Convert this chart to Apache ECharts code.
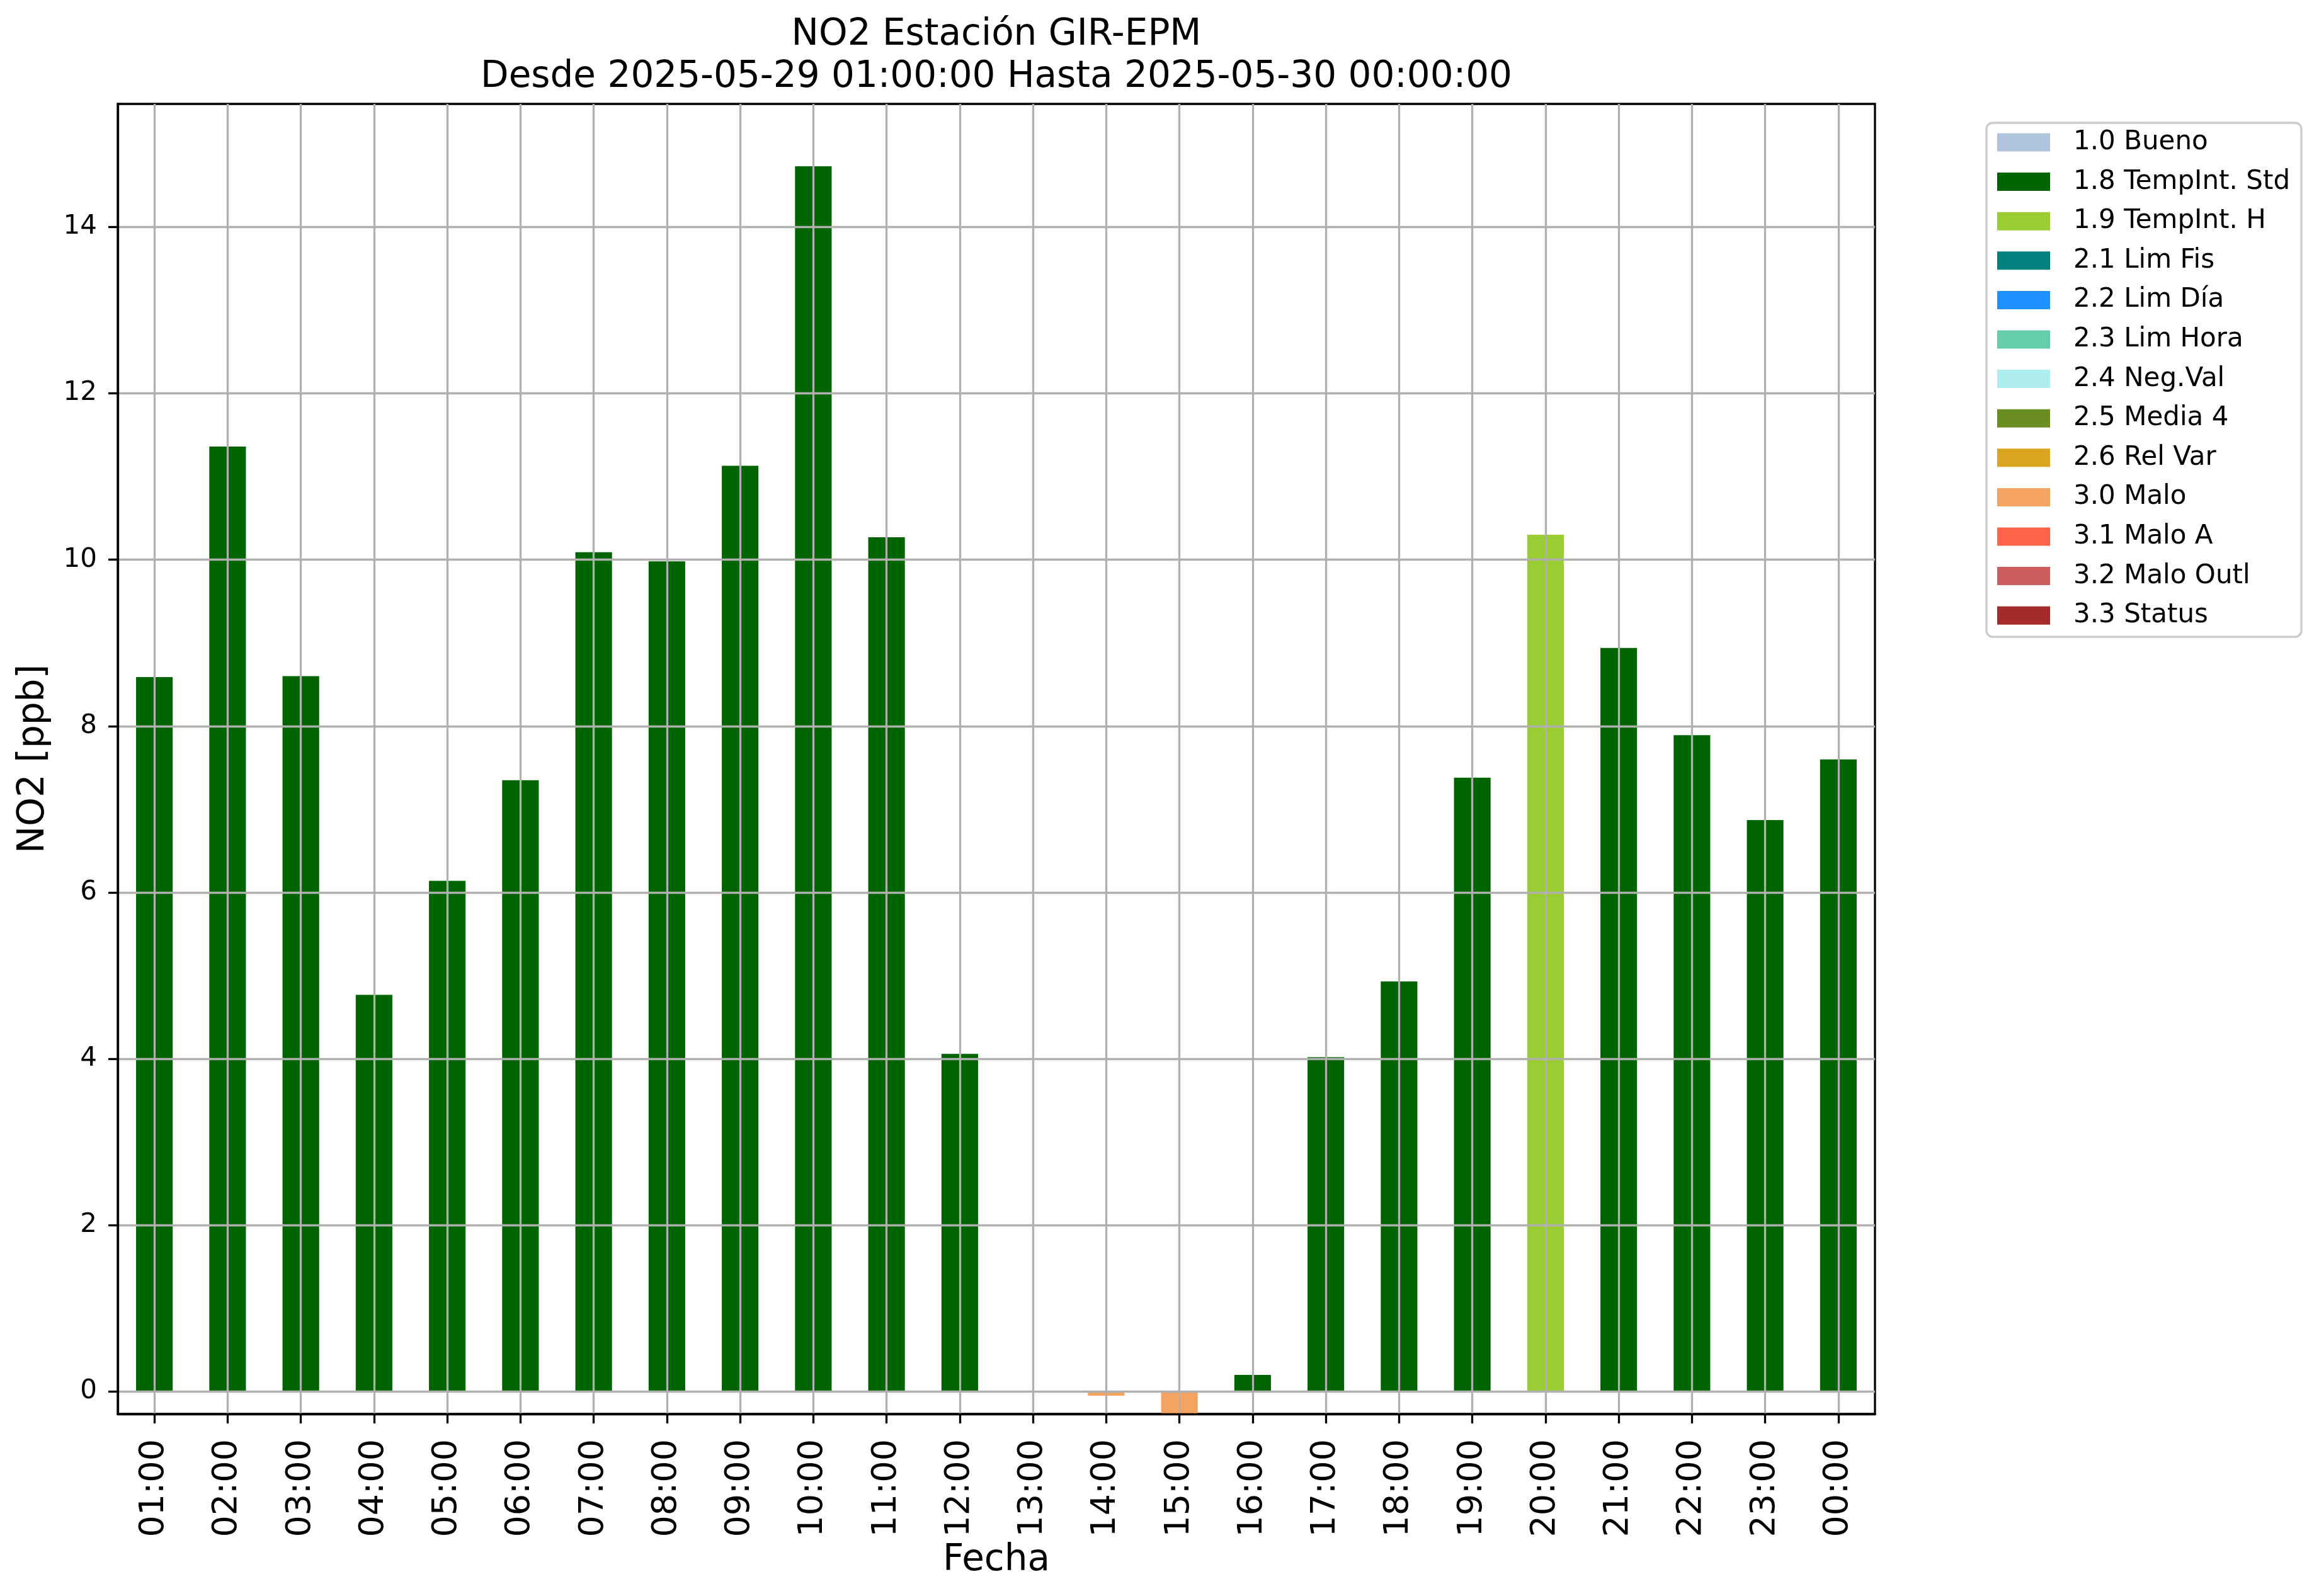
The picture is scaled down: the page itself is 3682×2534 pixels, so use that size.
<!DOCTYPE html>
<html>
<head>
<meta charset="utf-8">
<script src="https://cdn.jsdelivr.net/npm/echarts@6/dist/echarts.min.js"></script>
<style>
html,body{margin:0;padding:0;background:#fff;}
#chart{width:3682px;height:2534px;}
</style>
</head>
<body>
<div id="chart"></div>
<script>
const categories = ['01:00','02:00','03:00','04:00','05:00','06:00','07:00','08:00','09:00','10:00','11:00','12:00',
  '13:00','14:00','15:00','16:00','17:00','18:00','19:00','20:00','21:00','22:00','23:00','00:00'];
const values = [8.59, 11.36, 8.60, 4.77, 6.14, 7.35, 10.09, 9.98, 11.13, 14.73, 10.27, 4.06,
  null, -0.05, -0.27, 0.20, 4.02, 4.93, 7.38, 10.30, 8.94, 7.89, 6.87, 7.60];
const flags = ['1.8 TempInt. Std','1.8 TempInt. Std','1.8 TempInt. Std','1.8 TempInt. Std','1.8 TempInt. Std','1.8 TempInt. Std',
  '1.8 TempInt. Std','1.8 TempInt. Std','1.8 TempInt. Std','1.8 TempInt. Std','1.8 TempInt. Std','1.8 TempInt. Std',
  null,'3.0 Malo','3.0 Malo','1.8 TempInt. Std','1.8 TempInt. Std','1.8 TempInt. Std','1.8 TempInt. Std','1.9 TempInt. H',
  '1.8 TempInt. Std','1.8 TempInt. Std','1.8 TempInt. Std','1.8 TempInt. Std'];
const flagNames = ['1.0 Bueno','1.8 TempInt. Std','1.9 TempInt. H','2.1 Lim Fis','2.2 Lim Día','2.3 Lim Hora',
  '2.4 Neg.Val','2.5 Media 4','2.6 Rel Var','3.0 Malo','3.1 Malo A','3.2 Malo Outl','3.3 Status'];
const flagColors = ['#b0c4de','#006400','#9acd32','#008080','#1e90ff','#66cdaa',
  '#afeeee','#6b8e23','#daa520','#f4a460','#ff6347','#cd5c5c','#a52a2a'];
const yTicks = [0, 2, 4, 6, 8, 10, 12, 14];
const yMin = -0.27, yMax = 15.48;

const FONT = 'DejaVu Sans';
const chart = echarts.init(document.getElementById('chart'), null, {renderer: 'canvas'});

const series = flagNames.map((name, k) => ({
  name: name,
  type: 'bar',
  stack: 'all',
  barWidth: '50%',
  itemStyle: {color: flagColors[k]},
  data: values.map((v, i) => (flags[i] === name ? v : null)),
  z: 2
}));

chart.setOption({
  animation: false,
  backgroundColor: '#ffffff',
  textStyle: {fontFamily: FONT, color: '#000'},
  title: {
    text: 'NO2 Estación GIR-EPM\nDesde 2025-05-29 01:00:00 Hasta 2025-05-30 00:00:00',
    left: 1582,
    top: 22,
    textAlign: 'center',
    padding: 0,
    textStyle: {fontFamily: FONT, fontSize: 58, fontWeight: 'normal', color: '#000', lineHeight: 67}
  },
  legend: {
    orient: 'vertical',
    left: 3154,
    top: 195,
    data: flagNames,
    selectedMode: false,
    icon: 'rect',
    itemWidth: 84,
    itemHeight: 29,
    itemGap: 20.6,
    padding: [10, 18, 13, 17],
    backgroundColor: '#ffffff',
    borderColor: '#cccccc',
    borderWidth: 3.3,
    borderRadius: 10,
    textStyle: {fontFamily: FONT, fontSize: 42, color: '#000', padding: [0, 0, 0, 32]}
  },
  grid: {
    left: 187, right: 705, top: 165, bottom: 289,
    show: true, borderColor: '#000', borderWidth: 3.3, backgroundColor: 'transparent',
    containLabel: false
  },
  xAxis: {
    type: 'category',
    data: categories,
    z: 5,
    name: 'Fecha',
    nameLocation: 'middle',
    nameGap: 197,
    nameTextStyle: {fontFamily: FONT, fontSize: 58, color: '#000'},
    axisLine: {show: true, onZero: false, lineStyle: {color: '#000', width: 3.3}},
    axisTick: {show: true, alignWithLabel: true, length: 15, lineStyle: {color: '#000', width: 3.3}},
    axisLabel: {rotate: 90, margin: 40, fontFamily: FONT, fontSize: 54, color: '#000', interval: 0},
    splitLine: {show: true, alignWithLabel: true, interval: 0, lineStyle: {color: '#b0b0b0', width: 3.3}}
  },
  yAxis: {
    type: 'value',
    min: yMin,
    max: yMax,
    splitNumber: 8,
    z: 5,
    name: 'NO2 [ppb]',
    nameLocation: 'middle',
    nameGap: 104,
    nameTextStyle: {fontFamily: FONT, fontSize: 58, color: '#000'},
    axisLine: {show: true, lineStyle: {color: '#000', width: 3.3}},
    axisTick: {show: true, length: 15, customValues: yTicks, lineStyle: {color: '#000', width: 3.3}},
    axisLabel: {margin: 33, fontFamily: FONT, fontSize: 42, color: '#000', customValues: yTicks},
    splitLine: {show: true, lineStyle: {color: '#b0b0b0', width: 3.3}}
  },
  series: series
});
</script>
</body>
</html>
